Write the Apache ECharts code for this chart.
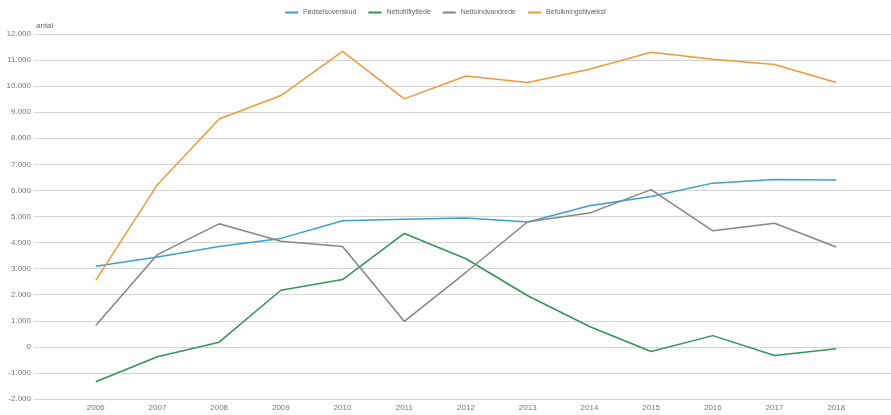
<!DOCTYPE html>
<html>
<head>
<meta charset="utf-8">
<script src="https://cdn.jsdelivr.net/npm/echarts@6/dist/echarts.min.js"></script>
<style>
  html, body { margin: 0; padding: 0; background: #fff; }
  #chart { width: 891px; height: 415px; }
</style>
</head>
<body>
<div id="chart"></div>
<script>
// data
const years = [2006, 2007, 2008, 2009, 2010, 2011, 2012, 2013, 2014, 2015, 2016, 2017, 2018];
const foedselsoverskud = [3090, 3450, 3850, 4160, 4840, 4890, 4940, 4790, 5410, 5770, 6280, 6420, 6400];
const nettotilflyttede = [-1340, -380, 180, 2170, 2580, 4350, 3380, 1960, 780, -180, 430, -330, -70];
const nettoindvandrede = [820, 3540, 4720, 4050, 3850, 980, 2860, 4800, 5130, 6030, 4450, 4740, 3830];
const befolkningstilvaekst = [2550, 6220, 8740, 9640, 11330, 9510, 10390, 10140, 10650, 11300, 11030, 10830, 10140];

const seriesNames = ['Fødselsoverskud', 'Nettotilflyttede', 'Nettoindvandrede', 'Befolkningstilvækst'];
const seriesColors = ['#3aa0cf', '#35935a', '#858585', '#f0993a'];
const seriesData = [foedselsoverskud, nettotilflyttede, nettoindvandrede, befolkningstilvaekst];

const chart = echarts.init(document.getElementById('chart'));

// tusindtalsseparator med punktum
const fmt = v => String(v).replace(/\B(?=(\d{3})+(?!\d))/g, '.');

chart.setOption({
  animation: false,
  textStyle: { fontFamily: 'Liberation Sans, Arial, sans-serif' },
  legend: {
    top: 4,
    left: 'center',
    itemWidth: 13,
    itemHeight: 2,
    itemGap: 12,
    icon: 'rect',
    textStyle: { fontSize: 7, color: '#666' },
    data: seriesNames
  },
  grid: {
    left: 34,
    right: -7,
    top: 34,
    bottom: 16,
    outerBoundsMode: 'none'
  },
  xAxis: {
    type: 'value',
    min: 2005,
    max: 2019,
    interval: 1,
    axisLine: { show: false },
    axisTick: { show: false },
    splitLine: { show: false },
    axisLabel: {
      fontSize: 8,
      color: '#777',
      margin: 5,
      formatter: v => (v >= 2006 && v <= 2018) ? String(v) : ''
    }
  },
  yAxis: {
    type: 'value',
    min: -2000,
    max: 12000,
    interval: 1000,
    name: 'antal',
    nameLocation: 'end',
    nameGap: 3,
    nameTextStyle: { fontSize: 8, color: '#666', align: 'left', padding: [0, 0, 0, 2] },
    axisLine: { show: false },
    axisTick: { show: false },
    axisLabel: { fontSize: 8, color: '#777', margin: 3, formatter: fmt },
    splitLine: { lineStyle: { color: '#d4d4d4', width: 1 } }
  },
  series: seriesNames.map((name, i) => ({
    name: name,
    type: 'line',
    data: years.map((y, j) => [y, seriesData[i][j]]),
    symbol: 'none',
    color: seriesColors[i],
    lineStyle: { width: 1.5, color: seriesColors[i] }
  }))
});
</script>
</body>
</html>
